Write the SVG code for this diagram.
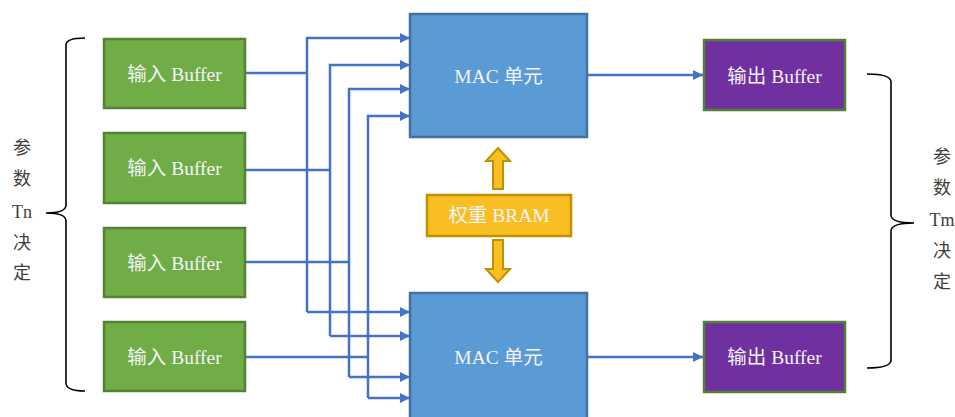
<svg xmlns="http://www.w3.org/2000/svg" width="955" height="417" viewBox="0 0 955 417">
<defs>
<style>
.in{fill:#70AD47;stroke:#548235;stroke-width:2.5}
.mac{fill:#5B9BD5;stroke:#41719C;stroke-width:2.5}
.out{fill:#7030A0;stroke:#548235;stroke-width:2.5}
.bram{fill:#F8BE22;stroke:#BF9000;stroke-width:2.5}
.barrow{fill:#F8BE22;stroke:#BF9000;stroke-width:2}
.t{font-family:"Liberation Serif","Noto Sans CJK SC",serif;font-size:19.5px;fill:#F4F4F8;text-anchor:middle;dominant-baseline:central}
.side{font-family:"Liberation Serif","Noto Sans CJK SC",serif;font-size:18px;fill:#404040;text-anchor:middle;dominant-baseline:central}
.c{fill:none;stroke:#4472C4;stroke-width:2.5}
.br{fill:none;stroke:#000000;stroke-width:1.6}
</style>
<marker id="ah" viewBox="0 0 10 10" refX="10" refY="5" markerWidth="4" markerHeight="4" orient="auto" markerUnits="strokeWidth">
<path d="M0,0 L10,5 L0,10 z" fill="#4472C4"/>
</marker>
</defs>
<g id="connectors">
<path class="c" d="M245,73 H307"/>
<path class="c" d="M307,312 V38 H410" marker-end="url(#ah)"/>
<path class="c" d="M307,312 H410" marker-end="url(#ah)"/>
<path class="c" d="M245,170 H330"/>
<path class="c" d="M330,336 V65 H410" marker-end="url(#ah)"/>
<path class="c" d="M330,336 H410" marker-end="url(#ah)"/>
<path class="c" d="M245,262 H349"/>
<path class="c" d="M349,377 V89 H410" marker-end="url(#ah)"/>
<path class="c" d="M349,377 H410" marker-end="url(#ah)"/>
<path class="c" d="M245,357 H368"/>
<path class="c" d="M368,398 V116 H410" marker-end="url(#ah)"/>
<path class="c" d="M368,398 H410" marker-end="url(#ah)"/>
<path class="c" d="M587,75 H703" marker-end="url(#ah)"/>
<path class="c" d="M587,357 H703" marker-end="url(#ah)"/>
</g>
<g id="in1"><rect class="in" x="104" y="39" width="141" height="69"/><text class="t" x="174.5" y="74">输入 Buffer</text></g>
<g id="in2"><rect class="in" x="104" y="133" width="141" height="70"/><text class="t" x="174.5" y="168">输入 Buffer</text></g>
<g id="in3"><rect class="in" x="104" y="228" width="141" height="69"/><text class="t" x="174.5" y="263">输入 Buffer</text></g>
<g id="in4"><rect class="in" x="104" y="322" width="141" height="69"/><text class="t" x="174.5" y="357">输入 Buffer</text></g>
<g id="mac1"><rect class="mac" x="410" y="14" width="177" height="123"/><text class="t" x="498.5" y="76">MAC 单元</text></g>
<g id="mac2"><rect class="mac" x="410" y="293" width="177" height="130"/><text class="t" x="498.5" y="357">MAC 单元</text></g>
<g id="out1"><rect class="out" x="704" y="40" width="141" height="70"/><text class="t" x="774.5" y="76">输出 Buffer</text></g>
<g id="out2"><rect class="out" x="704" y="322" width="141" height="70"/><text class="t" x="774.5" y="357">输出 Buffer</text></g>
<g id="bram">
<path class="barrow" d="M493,189 V161 H486 L498,148 L510,161 H503 V189 Z"/>
<path class="barrow" d="M493,240 V269 H486 L498,282 L510,269 H503 V240 Z"/>
<rect class="bram" x="427" y="195" width="144" height="41"/>
<text class="t" x="499" y="215.5">权重 BRAM</text>
</g>
<g id="leftbrace">
<path class="br" d="M85,38 Q66,38 66,45 V205 Q66,213 46,213 Q66,213 66,221 V383 Q66,391 85,391"/>
<text class="side" x="22" y="148">参</text>
<text class="side" x="22" y="179">数</text>
<text class="side" x="22" y="212">Tn</text>
<text class="side" x="22" y="243">决</text>
<text class="side" x="22" y="273">定</text>
</g>
<g id="rightbrace">
<path class="br" d="M867,74 Q891,74 891,82 V215 Q891,223 914,223 Q891,223 891,231 V360 Q891,368 867,368"/>
<text class="side" x="942" y="157">参</text>
<text class="side" x="942" y="188">数</text>
<text class="side" x="942" y="220">Tm</text>
<text class="side" x="942" y="251">决</text>
<text class="side" x="942" y="282">定</text>
</g>
</svg>
